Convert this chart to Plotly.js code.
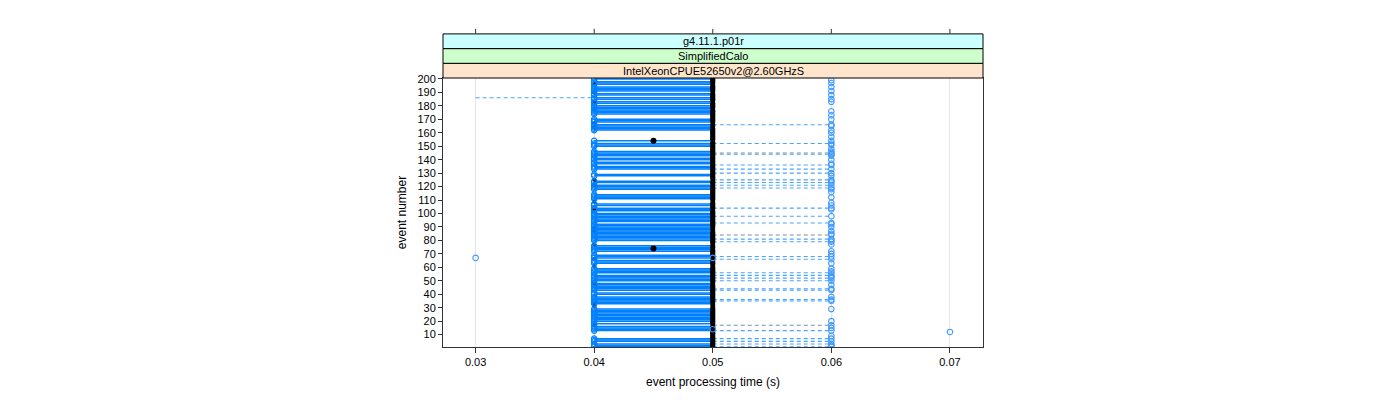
<!DOCTYPE html>
<html>
<head>
<meta charset="utf-8">
<script src="https://cdn.plot.ly/plotly-3.0.1.min.js"></script>
<style>html,body{margin:0;padding:0;background:#fff;}#chart{width:1400px;height:400px;}</style>
</head>
<body>
<div id="chart"></div>
<script>
// ---- data ----
const eventCount = 200;
const xTicks = [0.03, 0.04, 0.05, 0.06, 0.07];
const xTickLabels = ["0.03", "0.04", "0.05", "0.06", "0.07"];
const yTicks = [10,20,30,40,50,60,70,80,90,100,110,120,130,140,150,160,170,180,190,200];
const stripLabels = ["IntelXeonCPUE52650v2@2.60GHzS", "SimplifiedCalo", "g4.11.1.p01r"];

// typical fast / median / slow times (s)
const fastTime = 0.04;
const medianTime = 0.05;
const slowTime = 0.06;

// events without a run at 0.04 s (no solid segment)
const noFastEvents = [199,195,190,187,184,181,173,172,171,167,161,160,159,158,157,156,155,153,149,148,147,142,139,136,132,131,130,127,126,125,122,117,116,115,110,109,108,105,101,93,79,78,77,71,70,66,62,61,60,55,49,42,39,32,31,30,19,17,12,11,10,9,8,4];
// events whose slowest run reaches 0.06 s (dashed segment)
const slowDashBlue = [166,152,144,136,133,130,125,123,121,119,104,98,93,81,79,68,66,56,54,52,50,44,43,36,35,13,7,5,3,1];
const slowDashGrey = [145,84,17];
// further events with a run at 0.06 s
const slowPointEvents = [199,197,194,191,188,185,183,176,173,170,165,162,160,157,154,151,148,146,143,140,137,128,124,118,116,112,108,106,103,92,90,87,85,80,77,72,70,63,59,57,53,47,38,29,20,15,9,2];
// events whose median is 0.04 s
const medianFastEvents = [196,190,183,178,167,164,125,121,109,103,89,87,77,66,61,48,33,31,17];
// events whose median is 0.045 s
const medianMidEvents = [74,154];
const medianMidTime = 0.045;
// outliers
const outlierTimes = [0.03, 0.05, 0.05, 0.07];
const outlierEvents = [67, 67, 14, 12];
// event 186: dashed segment 0.03 -> 0.04
const longDashEvent = [186];
const longDashFrom = 0.03;
const longDashTo = 0.04;

// ---- build traces ----
const allEvents = Array.from({length: eventCount}, (_, i) => i + 1);
const noFastSet = new Set(noFastEvents);
const fastEvents = allEvents.filter(e => !noFastSet.has(e));
const special = new Set([...medianFastEvents, ...medianMidEvents]);
const medianSlowEvents = allEvents.filter(e => !special.has(e));

function segs(events, x0, x1) {
  const xs = [], ys = [];
  events.forEach(e => { xs.push(x0, x1, null); ys.push(e, e, null); });
  return {x: xs, y: ys};
}
const blue = '#0080ff';

const sSolid = segs(fastEvents, fastTime, medianTime);
const sDashB = segs(slowDashBlue, medianTime, slowTime);
const sDashG = segs(slowDashGrey, medianTime, slowTime);
const sLong = segs(longDashEvent, longDashFrom, longDashTo);

const slowAll = [...new Set([...slowPointEvents, ...slowDashBlue, ...slowDashGrey])];

const traces = [
  {type:'scatter', mode:'lines', x:sSolid.x, y:sSolid.y, line:{color:blue, width:1.5}, hoverinfo:'skip'},
  {type:'scatter', mode:'lines', x:sDashB.x, y:sDashB.y, line:{color:'#4aa3ff', width:1.1, dash:'4px,3px'}, hoverinfo:'skip'},
  {type:'scatter', mode:'lines', x:sDashG.x, y:sDashG.y, line:{color:'#7f8ea3', width:1.1, dash:'4px,3px'}, hoverinfo:'skip'},
  {type:'scatter', mode:'lines', x:sLong.x, y:sLong.y, line:{color:'#4aa3ff', width:1.1, dash:'4px,3px'}, hoverinfo:'skip'},
  {type:'scatter', mode:'markers', x:medianSlowEvents.map(() => medianTime), y:medianSlowEvents, marker:{color:'#000', size:5}},
  {type:'scatter', mode:'markers', x:medianMidEvents.map(() => medianMidTime), y:medianMidEvents, marker:{color:'#000', size:6}},
  {type:'scatter', mode:'markers', x:medianFastEvents.map(() => fastTime), y:medianFastEvents, marker:{color:'#000', size:4}},
  {type:'scatter', mode:'markers', x:[...fastEvents.map(() => fastTime)], y:fastEvents, marker:{symbol:'circle-open', color:blue, size:5.5, line:{width:1.1, color:blue}}},
  {type:'scatter', mode:'markers', x:slowAll.map(() => slowTime), y:slowAll, marker:{symbol:'circle-open', color:'#3d99ff', size:5.5, line:{width:1.1, color:'#3d99ff'}}},
  {type:'scatter', mode:'markers', x:outlierTimes, y:outlierEvents, marker:{symbol:'circle-open', color:'#3d99ff', size:5.5, line:{width:1.1, color:'#3d99ff'}}}
];

// ---- layout ----
const mL = 443, mR = 417, mT = 78, mB = 53;
const plotH = 400 - mT - mB;
const stripH = 14.7;
const stripColors = ['#ffe5cc', '#ccffcc', '#ccffff'];
const shapes = [], annotations = [];
stripLabels.forEach((lab, i) => {
  const y0 = 1 + (i * stripH) / plotH, y1 = 1 + ((i + 1) * stripH) / plotH;
  shapes.push({type:'rect', xref:'paper', yref:'paper', x0:0, x1:1, y0:y0, y1:y1,
    fillcolor:stripColors[i], line:{color:'#000', width:1}, layer:'above'});
  annotations.push({xref:'paper', yref:'paper', x:0.5, y:(y0 + y1) / 2, text:lab, showarrow:false,
    font:{family:'Liberation Sans, Arial, sans-serif', size:11, color:'#000'}, xanchor:'center', yanchor:'middle'});
});
const topY = 1 + (3 * stripH) / plotH;
xTicks.forEach(t => {
  shapes.push({type:'line', xref:'x', yref:'paper', x0:t, x1:t, y0:topY, y1:topY + 5 / plotH, line:{color:'#333', width:1}});
});

const layout = {
  width:1400, height:400,
  margin:{l:mL, r:mR, t:mT, b:mB, pad:0},
  paper_bgcolor:'#fff', plot_bgcolor:'#fff',
  showlegend:false,
  font:{family:'Liberation Sans, Arial, sans-serif', size:11, color:'#000'},
  xaxis:{range:[0.02725, 0.07279], tickvals:xTicks, ticktext:xTickLabels, ticks:'outside', ticklen:5, tickcolor:'#333',
    showgrid:true, gridcolor:'#e6e6e6', gridwidth:1, zeroline:false, showline:true, linecolor:'#333', linewidth:1, mirror:true,
    tickfont:{size:11}, title:{text:'event processing time (s)', font:{size:12}, standoff:10}},
  yaxis:{range:[0.8, 200.7], tickvals:yTicks, ticktext:yTicks.map(String), ticks:'outside', ticklen:4, tickcolor:'#333',
    showgrid:false, zeroline:false, showline:true, linecolor:'#333', linewidth:1, mirror:true,
    tickfont:{size:11}, title:{text:'event number', font:{size:12}, standoff:8}},
  shapes:shapes, annotations:annotations
};

Plotly.newPlot('chart', traces, layout, {displayModeBar:false, staticPlot:true});
</script>
</body>
</html>
